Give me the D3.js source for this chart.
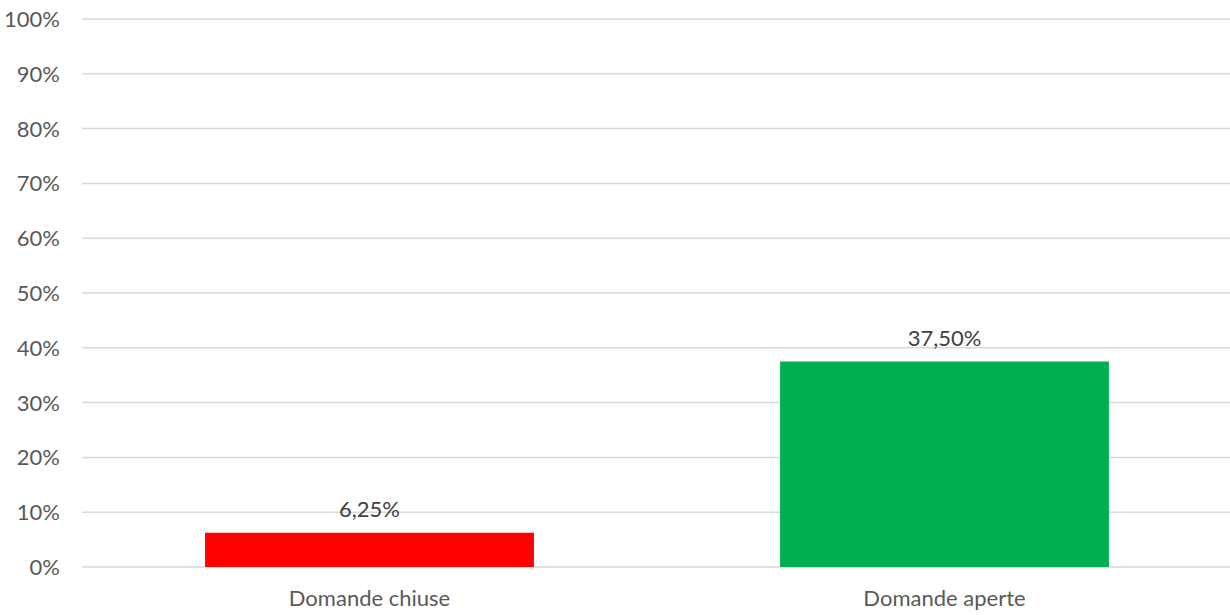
<!DOCTYPE html>
<html>
<head>
<meta charset="utf-8">
<script src="https://cdn.jsdelivr.net/npm/d3@7"></script>
<style>
  body { margin: 0; background: #fff; }
  svg { display: block; font-family: Lato, "Open Sans", sans-serif; }
</style>
</head>
<body>
<div id="chart"></div>
<script>
const categories = ["Domande chiuse", "Domande aperte"];
const values = [6.25, 37.5];
const valueLabels = ["6,25%", "37,50%"];
const barColors = ["#ff0000", "#00b050"];
const yTicks = [0, 10, 20, 30, 40, 50, 60, 70, 80, 90, 100];

const width = 1230;
const height = 615;
const margin = { top: 19, right: -2, bottom: 48, left: 82 };
const fontSize = "22px";

const svg = d3.select("#chart")
    .append("svg")
    .attr("width", width)
    .attr("height", height);

const x = d3.scaleBand()
    .domain(categories)
    .range([margin.left, width - margin.right])
    .paddingInner(0.428)
    .paddingOuter(0.214);

const y = d3.scaleLinear()
    .domain([0, 100])
    .range([height - margin.bottom, margin.top]);

// gridlines
svg.append("g")
    .selectAll("line")
    .data(yTicks)
    .enter()
    .append("line")
    .attr("x1", margin.left)
    .attr("x2", width)
    .attr("y1", d => y(d))
    .attr("y2", d => y(d))
    .attr("stroke", "#d9d9d9")
    .attr("stroke-width", 1.5);

// y tick labels
svg.append("g")
    .selectAll("text")
    .data(yTicks)
    .enter()
    .append("text")
    .attr("x", 60)
    .attr("y", d => y(d))
    .attr("dy", "0.36em")
    .attr("text-anchor", "end")
    .style("font-size", fontSize)
    .style("fill", "#595959")
    .text(d => d + "%");

// bars
svg.append("g")
    .selectAll("rect")
    .data(categories)
    .enter()
    .append("rect")
    .attr("x", d => x(d))
    .attr("width", x.bandwidth())
    .attr("y", (d, i) => y(values[i]))
    .attr("height", (d, i) => y(0) - y(values[i]))
    .attr("fill", (d, i) => barColors[i]);

// value labels
svg.append("g")
    .selectAll("text")
    .data(categories)
    .enter()
    .append("text")
    .attr("x", d => x(d) + x.bandwidth() / 2)
    .attr("y", (d, i) => y(values[i]) - 16)
    .attr("text-anchor", "middle")
    .style("font-size", fontSize)
    .style("fill", "#404040")
    .text((d, i) => valueLabels[i]);

// category labels
svg.append("g")
    .selectAll("text")
    .data(categories)
    .enter()
    .append("text")
    .attr("x", d => x(d) + x.bandwidth() / 2)
    .attr("y", 606)
    .attr("text-anchor", "middle")
    .style("font-size", fontSize)
    .style("fill", "#595959")
    .text(d => d);
</script>
</body>
</html>
